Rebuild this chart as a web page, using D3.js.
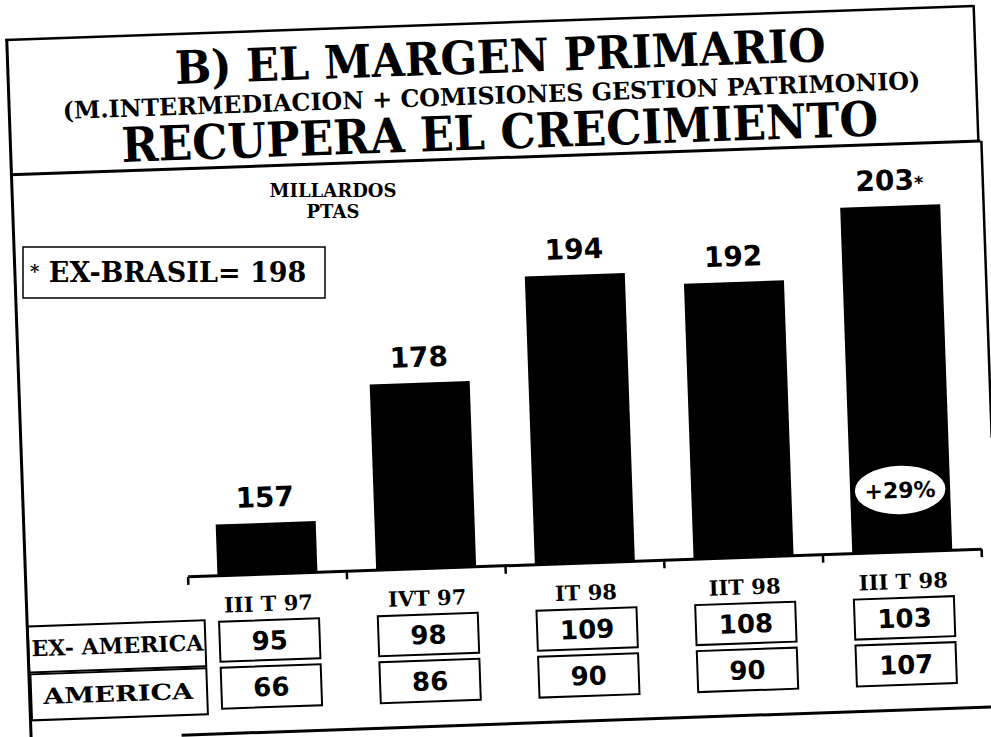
<!DOCTYPE html>
<html><head><meta charset="utf-8">
<script src="https://cdn.jsdelivr.net/npm/d3@7/dist/d3.min.js"></script>
<style>html,body{margin:0;padding:0;background:#fff;}svg{display:block;}</style>
</head><body>
<script>
// ---- data ----
const categories = ["III T 97", "IVT 97", "IT 98", "IIT 98", "III T 98"];
const totals = [157, 178, 194, 192, 203];
const totalSuffix = ["", "", "", "", "*"];
const exAmerica = [95, 98, 109, 108, 103];
const america = [66, 86, 90, 90, 107];
const rowLabels = ["EX- AMERICA", "AMERICA"];
const titleLines = ["B) EL MARGEN PRIMARIO", "(M.INTERMEDIACION + COMISIONES GESTION PATRIMONIO)", "RECUPERA EL CRECIMIENTO"];
const unitLines = ["MILLARDOS", "PTAS"];
const noteText = ["*", " EX-BRASIL= 198"];
const growthLabel = "+29%";

const W = 991, H = 737;
const SERIF = "'DejaVu Serif', serif";
const SANS = "'DejaVu Sans', sans-serif";

const svg = d3.select("body").append("svg").attr("width", W).attr("height", H)
  .style("background", "#fff");

// scanned page is slightly tilted
const root = svg.append("g").attr("transform", "rotate(-2 495 368)");

// ---- frame ----
const frame = root.append("g").attr("stroke", "#000").attr("fill", "none");
frame.append("line").attr("x1", 18.5).attr("y1", 22).attr("x2", 18.5).attr("y2", 780).attr("stroke-width", 3);
frame.append("line").attr("x1", 17).attr("y1", 23).attr("x2", 986).attr("y2", 23).attr("stroke-width", 2.5);
frame.append("line").attr("x1", 986).attr("y1", 22).attr("x2", 986).attr("y2", 159).attr("stroke-width", 2.5);
frame.append("line").attr("x1", 17).attr("y1", 158).attr("x2", 988).attr("y2", 158).attr("stroke-width", 3);
frame.append("line").attr("x1", 989).attr("y1", 158).attr("x2", 989).attr("y2", 455).attr("stroke-width", 2.5);
frame.append("line").attr("x1", 169).attr("y1", 724).attr("x2", 1020).attr("y2", 724).attr("stroke-width", 3);

// ---- title ----
const titleSpec = [
  {size: 46, y: 73, cx: 511, len: 651},
  {size: 24, y: 104, cx: 501, len: 858},
  {size: 48, y: 149, cx: 508, len: 757}
];
titleLines.forEach((t, i) => {
  const s = titleSpec[i];
  root.append("text").attr("x", s.cx).attr("y", s.y)
    .attr("text-anchor", "middle")
    .attr("font-family", SERIF).attr("font-weight", "bold").attr("font-size", s.size)
    .attr("textLength", s.len).attr("lengthAdjust", "spacingAndGlyphs")
    .text(t);
});

// ---- scales ----
const x = d3.scaleBand().domain(categories).range([181, 975]).paddingInner(0.37).paddingOuter(0.185);
const y = d3.scaleLinear().domain([149, 203]).range([566, 220]);
const y0 = y.range()[0];
const bw = x.bandwidth();

// bars
root.append("g").selectAll("rect").data(categories).join("rect")
  .attr("x", d => x(d)).attr("y", (d, i) => y(totals[i]))
  .attr("width", bw).attr("height", (d, i) => y0 - y(totals[i]))
  .attr("fill", "#000");

// baseline axis with downward ticks at band boundaries
const ax = root.append("g").attr("stroke", "#000");
ax.append("line").attr("x1", x.range()[0]).attr("x2", x.range()[1]).attr("y1", y0).attr("y2", y0).attr("stroke-width", 3);
d3.range(categories.length + 1).forEach(i => {
  const xx = x.range()[0] + i * x.step();
  ax.append("line").attr("x1", xx).attr("x2", xx).attr("y1", y0).attr("y2", y0 + 8).attr("stroke-width", 2.5);
});

// value labels
const vl = root.append("g").selectAll("text").data(categories).join("text")
  .attr("x", d => x(d) + bw / 2).attr("y", (d, i) => y(totals[i]) - 16)
  .attr("text-anchor", "middle").attr("font-family", SANS).attr("font-weight", "bold").attr("font-size", 28);
vl.append("tspan").text((d, i) => totals[i]);
vl.append("tspan").attr("font-size", 18).text((d, i) => totalSuffix[i]);

// growth ellipse on last bar
const last = categories[categories.length - 1];
root.append("ellipse").attr("cx", x(last) + bw / 2).attr("cy", 504).attr("rx", 46).attr("ry", 25)
  .attr("fill", "#fff").attr("stroke", "#000").attr("stroke-width", 1.5);
root.append("text").attr("x", x(last) + bw / 2).attr("y", 512)
  .attr("text-anchor", "middle").attr("font-family", SANS).attr("font-weight", "bold").attr("font-size", 22)
  .text(growthLabel);

// category labels
root.append("g").selectAll("text").data(categories).join("text")
  .attr("x", d => x(d) + bw / 2).attr("y", 603)
  .attr("text-anchor", "middle").attr("font-family", SERIF).attr("font-weight", "bold").attr("font-size", 21)
  .text(d => d);

// table
const rows = [
  {vals: exAmerica, top: 612, h: 40, lab: {x: 19, y: 610, w: 177, h: 46, tx: 22, tl: 172, ty: 640}},
  {vals: america, top: 658, h: 41, lab: {x: 20, y: 658, w: 176, h: 46, tx: 32, tl: 150, ty: 688}}
];
rows.forEach((r, ri) => {
  const g = root.append("g");
  g.append("rect").attr("x", r.lab.x).attr("y", r.lab.y).attr("width", r.lab.w).attr("height", r.lab.h)
    .attr("fill", "none").attr("stroke", "#000").attr("stroke-width", 2);
  g.append("text").attr("x", r.lab.tx).attr("y", r.lab.ty)
    .attr("font-family", SERIF).attr("font-weight", "bold").attr("font-size", 22)
    .attr("textLength", r.lab.tl).attr("lengthAdjust", "spacingAndGlyphs")
    .text(rowLabels[ri]);
  g.selectAll("rect.cell").data(categories).join("rect").attr("class", "cell")
    .attr("x", d => x(d)).attr("y", r.top).attr("width", bw).attr("height", r.h)
    .attr("fill", "none").attr("stroke", "#000").attr("stroke-width", 2);
  g.selectAll("text.cell").data(categories).join("text").attr("class", "cell")
    .attr("x", d => x(d) + bw / 2).attr("y", r.top + r.h / 2 + 9.5)
    .attr("text-anchor", "middle").attr("font-family", SANS).attr("font-weight", "bold").attr("font-size", 26)
    .text((d, i) => r.vals[i]);
});

// ---- un-tilted pasted notes ----
unitLines.forEach((t, i) => {
  svg.append("text").attr("x", 333).attr("y", 197 + i * 21)
    .attr("text-anchor", "middle").attr("font-family", SERIF).attr("font-weight", "bold").attr("font-size", 18)
    .text(t);
});
svg.append("rect").attr("x", 23).attr("y", 247).attr("width", 302).attr("height", 51)
  .attr("fill", "none").attr("stroke", "#000").attr("stroke-width", 1.5);
const nt = svg.append("text").attr("x", 30).attr("y", 282)
  .attr("font-family", SERIF).attr("font-weight", "bold").attr("font-size", 27);
nt.append("tspan").attr("font-size", 18).attr("dy", -4).text(noteText[0]);
nt.append("tspan").attr("dy", 4).text(noteText[1]);
</script>
</body></html>
